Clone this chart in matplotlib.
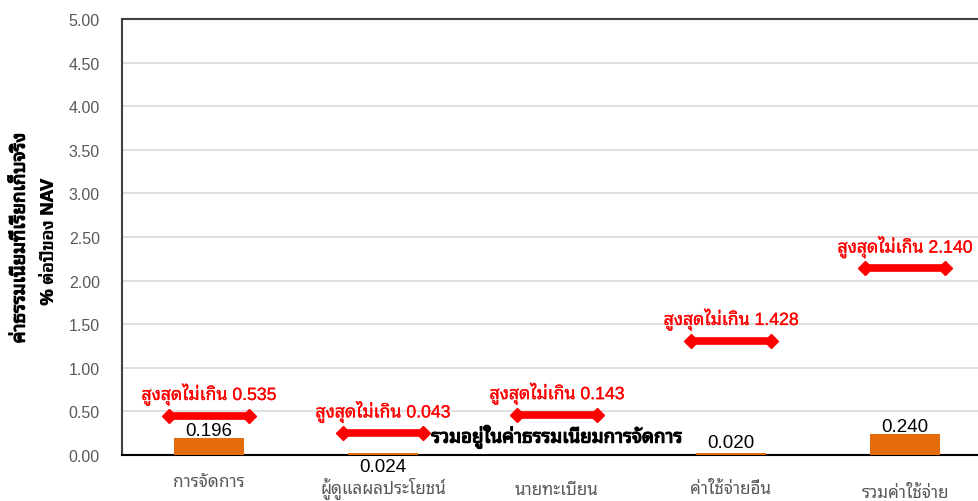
import matplotlib
matplotlib.use("Agg")
import matplotlib.pyplot as plt
import matplotlib.patheffects as pe
import matplotlib.transforms as mtransforms
from matplotlib import font_manager

# data
categories = ["การจัดการ", "ผู้ดูแลผลประโยชน์", "นายทะเบียน", "ค่าใช้จ่ายอื่น", "รวมค่าใช้จ่าย"]
actual = [0.196, 0.024, None, 0.020, 0.240]
max_fee = [0.535, 0.043, 0.143, 1.428, 2.140]
max_line_y = [0.45, 0.25, 0.46, 1.31, 2.14]
note_text = "รวมอยู่ในค่าธรรมเนียมการจัดการ"
ylabel_1 = "ค่าธรรมเนียมที่เรียกเก็บจริง"
ylabel_2 = "% ต่อปีของ NAV"

# pick a thai font that is installed
names = set(f.name for f in font_manager.fontManager.ttflist)
thai = None
for n in ["Noto Sans Thai Looped", "Tahoma", "Loma", "Noto Sans Thai", "Sarabun", "Garuda", "Kanit", "Athiti"]:
    if n in names:
        thai = n
        break
fam = ["Liberation Sans", thai] if thai else ["Liberation Sans"]
plt.rcParams["font.family"] = fam

# thai face has no bold here, so thicken it with a stroke
fake_bold = [pe.withStroke(linewidth=0.9, foreground="black")]

fig = plt.figure(figsize=(9.79, 5.02), dpi=100)
ax = fig.add_axes([122 / 979, 46 / 502, 870 / 979, 436 / 502])

x = list(range(len(categories)))
bar_x = [i for i, v in zip(x, actual) if v is not None]
bar_v = [v for v in actual if v is not None]
ax.bar(bar_x, bar_v, width=0.4, color="#E46C0A", zorder=3)

ax.set_xlim(-0.5, 4.5)
ax.set_ylim(0, 5)
ax.set_yticks([i * 0.5 for i in range(11)])
ax.set_yticklabels(["%.2f" % (i * 0.5) for i in range(11)], color="#595959", fontsize=11.5)
ax.tick_params(axis="y", length=0, pad=16)
ax.set_xticks([])
ax.grid(axis="y", color="#d9d9d9", lw=1.2, zorder=0)
ax.set_axisbelow(True)
ax.spines["right"].set_visible(False)
ax.spines["left"].set_color("#404040")
ax.spines["left"].set_linewidth(1.5)
ax.spines["top"].set_color("#404040")
ax.spines["top"].set_linewidth(1.5)
ax.spines["bottom"].set_color("black")
ax.spines["bottom"].set_linewidth(1.5)

# category labels, a bit staggered as in the original
lab_off = [-27, -32, -35, -33, -37]
for i, c in enumerate(categories):
    ax.annotate(c, xy=(i, 0), xytext=(0, lab_off[i] * 0.72), textcoords="offset points",
                ha="center", va="center", fontsize=12.3, color="#595959", annotation_clip=False)

# value labels
val_off = [7, -14, 0, 11, 8]
for i, v in enumerate(actual):
    if v is None:
        continue
    ax.annotate("%.3f" % v, xy=(i, v), xytext=(0, val_off[i] * 0.72), textcoords="offset points",
                ha="center", va="center", fontsize=13.5, color="black", annotation_clip=False, zorder=5)

# max fee markers
for i, (m, y) in enumerate(zip(max_fee, max_line_y)):
    ax.plot([i - 0.23, i + 0.23], [y, y], color="#FF0000", lw=5.5, marker="D", ms=7,
            solid_capstyle="butt", zorder=4)
    ax.annotate("สูงสุดไม่เกิน %.3f" % m, xy=(i, y), xytext=(0, 15), textcoords="offset points",
                ha="center", va="center", fontsize=12.7, color="#FF0000", zorder=5,
                path_effects=[pe.withStroke(linewidth=0.2, foreground="#FF0000")])

ax.text(2, 0.21, note_text, ha="center", va="center", fontsize=13.5, fontweight="bold",
        color="black", zorder=5, path_effects=fake_bold)

fig.text(20 / 979, 263 / 502, ylabel_1, rotation=90, ha="center", va="center",
         fontsize=13.5, fontweight="bold", path_effects=fake_bold)
# second line drawn twice, slightly shifted, to look bold
for dy in [0, 1.0]:
    tr = mtransforms.offset_copy(fig.transFigure, fig, x=0, y=dy, units="dots")
    fig.text(50 / 979, 260 / 502, ylabel_2, rotation=90, ha="center", va="center",
             fontsize=13, fontweight="bold", transform=tr)

fig.savefig("out.png", dpi=100)
